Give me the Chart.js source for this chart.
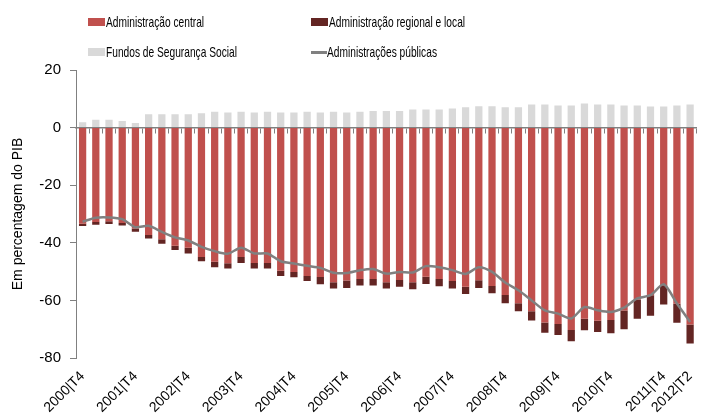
<!DOCTYPE html>
<html>
<head>
<meta charset="utf-8">
<script src="https://cdn.jsdelivr.net/npm/chart.js@4/dist/chart.umd.min.js"></script>
<style>
  html, body { margin: 0; padding: 0; background: #fff; }
  #wrap { position: relative; width: 712px; height: 414px; }
  #wrap canvas { position: absolute; left: 0; top: 0; }
  .leg { position: absolute; height: 18px; line-height: 18px; font-size: 15px; color: #000; white-space: nowrap;
         font-family: 'Liberation Sans Narrow', 'Arial Narrow', 'Liberation Sans', sans-serif;
         transform: scaleX(0.68); transform-origin: 0 50%; }
  .sw { position: absolute; }
</style>
</head>
<body>
<div id="wrap">
  <canvas id="chart" width="712" height="414"></canvas>
  <div id="legend"></div>
</div>
<script>
// quarters shown on the x axis
const labels = [
  '2000|T4',
  '2001|T1', '2001|T2', '2001|T3', '2001|T4',
  '2002|T1', '2002|T2', '2002|T3', '2002|T4',
  '2003|T1', '2003|T2', '2003|T3', '2003|T4',
  '2004|T1', '2004|T2', '2004|T3', '2004|T4',
  '2005|T1', '2005|T2', '2005|T3', '2005|T4',
  '2006|T1', '2006|T2', '2006|T3', '2006|T4',
  '2007|T1', '2007|T2', '2007|T3', '2007|T4',
  '2008|T1', '2008|T2', '2008|T3', '2008|T4',
  '2009|T1', '2009|T2', '2009|T3', '2009|T4',
  '2010|T1', '2010|T2', '2010|T3', '2010|T4',
  '2011|T1', '2011|T2', '2011|T3', '2011|T4',
  '2012|T1', '2012|T2'
];

// % of GDP
const central = [
  -33.4, -32.8, -32.5, -33.1, -35.0, -37.3, -38.8, -41.0, -41.7, -44.9,
  -46.6, -47.1, -44.9, -47.0, -47.0, -49.7, -50.1, -51.5, -51.9, -53.7,
  -53.1, -52.6, -52.6, -53.7, -52.9, -53.7, -51.8, -52.6, -53.3, -55.3,
  -53.0, -55.0, -58.1, -61.0, -63.8, -67.7, -68.2, -70.3, -66.4, -67.1,
  -66.8, -63.5, -59.7, -58.2, -54.7, -61.2, -68.4
];
const regional = [
  -0.8, -0.9, -1.0, -0.9, -1.2, -1.2, -1.5, -1.5, -2.0, -1.5,
  -1.9, -1.8, -2.1, -1.9, -1.9, -1.8, -1.9, -1.8, -2.5, -2.2,
  -2.6, -2.2, -2.2, -2.2, -2.4, -2.4, -2.5, -2.5, -2.6, -2.5,
  -2.7, -2.5, -2.9, -2.8, -3.2, -3.5, -3.8, -3.9, -4.0, -3.9,
  -4.6, -6.5, -6.7, -7.1, -6.7, -6.6, -6.6
];
const social = [
  1.9, 2.7, 2.7, 2.3, 1.6, 4.6, 4.6, 4.6, 4.6, 5.0,
  5.5, 5.2, 5.5, 5.2, 5.5, 5.2, 5.2, 5.5, 5.2, 5.5,
  5.2, 5.5, 5.8, 5.8, 5.8, 6.3, 6.3, 6.3, 6.6, 7.1,
  7.4, 7.4, 7.1, 7.1, 8.0, 8.0, 7.7, 7.7, 8.4, 8.0,
  8.0, 7.7, 7.7, 7.3, 7.3, 7.7, 8.0
];
const total = [
  -32.7, -31.3, -31.2, -31.8, -34.6, -34.1, -36.2, -38.1, -39.2, -41.4,
  -42.9, -43.8, -41.7, -43.7, -43.7, -46.4, -47.2, -48.0, -48.7, -50.4,
  -50.5, -49.5, -49.1, -50.7, -50.1, -50.3, -48.1, -48.5, -49.5, -50.8,
  -48.5, -50.1, -53.8, -56.5, -60.0, -63.5, -64.6, -66.3, -62.3, -63.4,
  -64.0, -62.5, -59.3, -58.2, -54.4, -61.1, -67.5
];

const yTicks = [20, 0, -20, -40, -60, -80];

const names = ['Administração central', 'Administração regional e local',
               'Fundos de Segurança Social', 'Administrações públicas'];
const colors = ['#C0504D', '#632523', '#D9D9D9', '#808080'];

const FONT = "'Liberation Sans Narrow', 'Arial Narrow', 'Liberation Sans', sans-serif";
const axisGray = '#808080';

window.onload = function() {
  // legend as html, laid out in two columns like the original
  const legendItems = [
    { i: 0, x: 88, y: 22 }, { i: 1, x: 311, y: 22 },
    { i: 2, x: 88, y: 52 }, { i: 3, x: 311, y: 52 }
  ];
  const legend = document.getElementById('legend');
  legendItems.forEach(function(it) {
    const sw = document.createElement('div');
    sw.className = 'sw';
    if (it.i === 3) {
      sw.style.cssText = 'left:' + it.x + 'px;top:' + (it.y - 1) + 'px;width:16px;height:2.5px;background:' + colors[3];
    } else {
      sw.style.cssText = 'left:' + it.x + 'px;top:' + (it.y - 4) + 'px;width:17px;height:8px;background:' + colors[it.i];
    }
    legend.appendChild(sw);
    const t = document.createElement('div');
    t.className = 'leg';
    t.style.left = (it.x + (it.i === 3 ? 16 : 18)) + 'px';
    t.style.top = (it.y - 9) + 'px';
    t.textContent = names[it.i];
    legend.appendChild(t);
  });

  const ctx = document.getElementById('chart').getContext('2d');

  const barDefaults = { barPercentage: 0.55, categoryPercentage: 1, borderWidth: 0, order: 1, stack: 'ap' };

  new Chart(ctx, {
    type: 'bar',
    data: {
      labels: labels,
      datasets: [
        Object.assign({ label: names[0], data: central, backgroundColor: colors[0] }, barDefaults),
        Object.assign({ label: names[1], data: regional, backgroundColor: colors[1] }, barDefaults),
        Object.assign({ label: names[2], data: social, backgroundColor: colors[2] }, barDefaults),
        {
          type: 'line',
          label: names[3],
          data: total,
          borderColor: colors[3],
          borderWidth: 2.5,
          pointRadius: 0,
          tension: 0.25,
          stack: 'line',
          order: 0
        }
      ]
    },
    options: {
      responsive: false,
      animation: false,
      layout: { padding: { top: 70, right: 1, left: 0, bottom: 0 } },
      plugins: {
        legend: { display: false },
        tooltip: { enabled: false }
      },
      scales: {
        x: {
          stacked: true,
          offset: true,
          grid: { display: false, drawTicks: false, offset: true },
          border: { display: false },
          ticks: {
            autoSkip: false,
            minRotation: 45,
            maxRotation: 45,
            padding: 10,
            color: '#000',
            font: { family: FONT, size: 14 },
            callback: function(v, i) {
              const l = labels[i];
              return (l.endsWith('T4') || i === labels.length - 1) ? l : '';
            }
          },
          afterFit: function(s) { s.height = 56; }
        },
        // zero line with the small tick marks between bars
        x0: {
          type: 'category',
          position: { y: 0 },
          offset: true,
          grid: { offset: true, drawOnChartArea: false, drawTicks: true, tickLength: 5, color: axisGray },
          border: { display: true, color: axisGray, width: 1.5 },
          ticks: { display: false }
        },
        y: {
          stacked: true,
          min: -80,
          max: 20,
          afterBuildTicks: function(s) { s.ticks = yTicks.map(function(v) { return { value: v }; }); },
          grid: { drawOnChartArea: false, drawTicks: true, tickLength: 6, color: axisGray },
          border: { display: true, color: axisGray, width: 1 },
          ticks: {
            padding: 9,
            color: '#000',
            font: { family: FONT, size: 15 }
          },
          title: {
            display: true,
            text: 'Em percentagem do PIB',
            color: '#000',
            font: { family: FONT, size: 14 },
            padding: { top: 10, bottom: 0 }
          },
          afterFit: function(s) { s.width = 76; }
        }
      }
    }
  });
};
</script>
</body>
</html>
